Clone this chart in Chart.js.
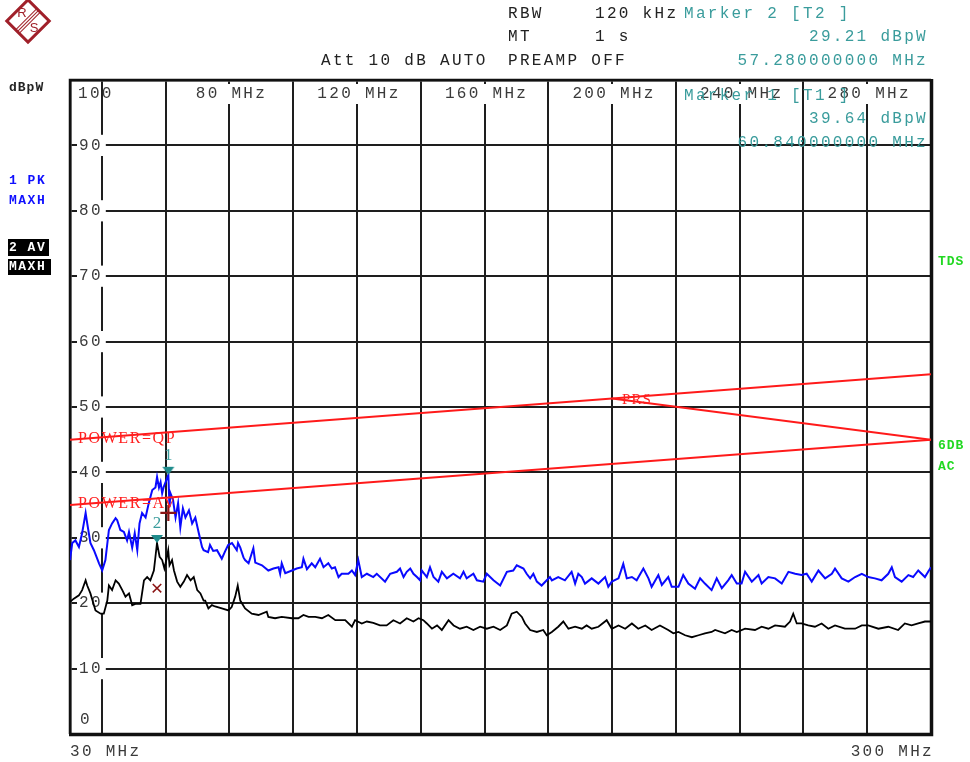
<!DOCTYPE html>
<html><head><meta charset="utf-8">
<script src="https://cdn.jsdelivr.net/npm/chart.js@4"></script>
<style>html,body{margin:0;padding:0;background:#fff;}#wrap{width:970px;height:762px;position:relative;}</style>
</head><body><div id="wrap"><canvas id="c" width="970" height="762"></canvas></div>
<script>
// ---------- DATA ----------
const pkFreq = [30,30.7,31.7,32.8,33.8,34.9,35.4,36.4,37.5,39.1,40.1,41.1,42.2,43.2,44.3,44.8,45.8,46.9,47.9,48.5,49.5,50.3,51.1,51.8,52.6,53.7,54.7,55.8,56.8,57.3,57.9,58.4,58.9,59.4,60.2,60.84,61.2,61.5,62.3,63.1,63.9,64.6,65.4,66.2,67.3,68.3,69.3,70.4,71.4,71.9,73.3,73.9,74.9,76.1,77.6,78.7,79.6,80.8,82.3,82.7,83.4,84.4,84.9,86.0,87.5,88.1,90.2,92.2,93.8,95.4,95.9,96.4,97.5,99.6,101.1,102.7,103.2,104.3,105.8,106.9,108.4,109.5,111.0,112.1,113.1,114.2,115.2,117.3,118.4,119.4,120.4,121.5,123.1,125.1,126.2,128.8,130.4,132.5,133.5,134.6,135.6,136.7,137.7,138.8,139.8,140.3,141.9,142.9,144.0,145.5,146.6,148.2,150.2,152.3,153.4,154.4,156.5,157.6,159.6,160.7,162.8,164.9,167.0,169.0,170.1,172.2,173.2,174.3,175.3,176.4,177.9,179.5,180.5,181.1,183.1,185.2,187.3,188.4,189.4,190.5,191.5,193.6,195.7,197.8,198.8,199.9,202.0,203.5,204.6,206.2,207.7,209.8,211.4,212.4,214.5,215.6,217.6,218.7,220.8,222.3,223.9,226.0,227.6,229.1,231.2,232.8,234.4,236.4,237.5,239.1,240.6,241.7,243.8,245.9,246.9,249.0,251.1,253.2,255.3,257.4,259.4,261.0,262.6,264.7,266.8,268.9,269.9,272.0,274.1,276.2,278.3,280.3,282.4,284.5,286.6,287.7,288.7,290.8,292.9,294.4,296.0,298.1,299.1,300];
const pkLevel = [26.6,29.2,29.6,28.6,30.7,33.8,32.2,29.2,28.1,26.1,25.0,26.6,31.2,32.2,33.0,32.7,31.2,30.9,29.6,30.9,28.5,30.7,28.1,32.2,33.8,33.1,35.3,37.3,37.7,39.3,37.7,38.5,36.8,37.8,38.8,39.64,34.7,36.8,35.8,33.1,35.3,31.6,34.5,33.1,34.2,32.2,33.1,30.7,28.6,28.1,27.8,28.9,28.0,28.1,26.8,28.0,28.9,29.2,28.1,29.2,28.5,27.0,26.6,26.1,28.4,26.2,25.8,25.0,25.3,25.5,24.5,26.1,24.6,25.0,25.3,25.5,26.8,25.2,26.1,25.5,26.8,25.5,26.1,25.3,25.5,24.0,24.5,24.5,25.0,24.3,26.6,24.0,24.5,24.0,24.5,23.3,24.5,24.8,25.3,24.0,24.8,25.3,24.5,24.0,23.5,25.0,24.0,25.5,24.0,23.3,24.8,23.8,24.5,23.8,24.8,23.8,24.5,23.5,23.3,24.5,23.5,22.7,24.8,25.0,25.8,25.3,24.5,23.8,24.5,23.3,22.7,23.5,24.0,23.5,24.0,23.5,24.8,23.0,24.5,24.0,23.0,23.8,23.0,24.0,22.5,23.3,23.8,26.0,23.8,24.0,23.5,25.3,23.8,22.5,24.3,22.8,24.0,22.5,22.5,24.3,23.0,22.2,23.8,23.0,22.0,23.8,22.3,23.5,24.3,23.0,23.0,24.8,23.3,24.3,23.0,24.0,23.8,23.0,24.8,24.5,24.3,24.5,23.3,25.0,23.8,24.5,25.3,23.8,23.3,24.0,24.5,24.0,23.8,23.5,24.5,25.5,24.0,23.3,24.3,24.0,25.0,24.0,24.8,25.5];

const avFreq = [30,31.2,32.8,33.8,34.9,35.4,36.4,38.0,39.6,40.6,41.7,42.2,43.2,44.3,45.3,46.4,47.4,48.5,49.5,50.5,52.1,53.2,54.2,55.2,56.3,56.8,57.28,58.1,58.9,59.6,60.2,60.8,61.2,62.0,62.6,63.6,64.6,65.7,66.7,67.8,68.8,69.9,70.9,71.9,72.4,73.4,74.5,75.5,77.6,79.7,80.7,81.8,82.6,83.4,84.9,87.0,89.1,91.7,92.2,94.3,96.4,99.6,101.6,103.2,104.8,106.9,109.0,111.0,113.2,116.3,118.4,119.4,121.5,123.1,125.1,127.2,129.3,131.4,133.5,135.6,137.7,139.3,140.8,141.9,143.5,145.1,146.6,148.7,150.3,152.3,154.4,156.5,158.6,160.7,162.8,164.9,167.0,168.5,170.1,171.7,172.7,174.3,176.4,178.4,179.5,181.1,183.1,184.7,186.3,188.4,190.5,192.0,193.6,195.7,198.3,199.9,202.0,204.1,206.2,208.2,210.4,212.4,215.0,217.6,219.2,220.8,222.9,225.0,227.1,229.1,231.2,232.3,235.4,237.5,239.1,241.7,244.8,246.9,249.0,251.1,254.2,255.8,256.8,257.9,259.4,261.5,263.6,265.7,267.8,269.9,273.0,276.2,278.3,280.3,283.5,286.6,289.7,291.8,293.9,296.0,298.1,300];
const avLevel = [20.2,20.7,21.2,22.0,23.5,22.7,21.5,18.9,18.4,18.4,20.4,22.7,22.0,23.5,23.0,22.0,21.0,21.5,19.7,19.9,19.9,23.5,24.0,23.5,25.0,27.1,29.21,27.1,26.6,25.3,26.6,28.1,25.8,26.6,25.0,23.3,22.5,23.3,24.3,23.5,24.0,22.0,21.5,20.4,20.4,19.2,19.7,19.5,19.2,18.9,19.4,21.0,22.7,20.4,19.2,18.4,18.2,18.7,17.9,17.7,17.9,17.7,17.7,18.2,17.9,17.9,17.7,18.2,17.4,17.4,16.4,17.4,16.9,17.2,17.0,16.6,16.6,17.4,16.9,17.7,17.2,17.7,17.4,16.9,16.1,16.6,15.9,17.4,16.6,16.1,16.4,15.9,16.4,16.1,16.4,15.9,16.6,18.4,18.7,17.9,16.9,15.9,15.6,15.9,15.1,15.6,16.4,17.2,16.1,16.4,16.1,16.6,16.1,16.4,17.4,16.1,16.6,16.1,16.9,16.1,16.6,15.9,16.6,15.9,15.4,15.6,15.1,14.8,15.1,15.4,15.6,15.9,15.4,15.9,15.6,16.1,15.9,16.4,16.1,16.6,16.4,17.2,18.4,16.9,16.9,16.6,16.4,16.9,16.1,16.6,16.1,16.1,16.6,16.6,16.1,16.4,15.9,16.9,16.6,16.9,17.2,17.2];

const limitFreq = [30, 300];
const limitQP = [45, 55];
const limitAV = [35, 45];
const prsFreq = [200, 300];
const prsLevel = [51.3, 45];

const markerFreq = [60.84, 57.28];
const markerLevel = [39.64, 29.21];
const markerNames = ['1', '2'];
const plusFreq = [60.84];
const plusLevel = [33.8];
const crossFreq = [57.28];
const crossLevel = [22.3];

const freqGrid = [30,40,60,80,100,120,140,160,180,200,220,240,260,280,300];
const freqTickValues = [80,120,160,200,240,280];
const freqTickLabels = ['80 MHz','120 MHz','160 MHz','200 MHz','240 MHz','280 MHz'];
const levelTicks = [0,10,20,30,40,50,60,70,80,90,100];

// ---------- HELPERS ----------
const MONO = '"Liberation Mono", "DejaVu Sans Mono", monospace';
const TEAL = '#3a9c9c';
function pts(xs, ys){ return xs.map((x,i)=>({x:x, y:ys[i]})); }
function txt(ctx, s, x, y, o){
  o = o || {};
  ctx.save();
  ctx.font = o.font || ('16px ' + MONO);
  ctx.fillStyle = o.color || '#222';
  ctx.textBaseline = 'middle';
  ctx.textAlign = o.align || 'left';
  if ('letterSpacing' in ctx) ctx.letterSpacing = (o.ls === undefined ? 2.3 : o.ls) + 'px';
  if (o.bg){
    const w = ctx.measureText(s).width;
    let x0 = x; if (ctx.textAlign==='center') x0 = x - w/2; else if (ctx.textAlign==='right') x0 = x - w;
    ctx.fillStyle = o.bg; ctx.fillRect(x0 - (o.padL||2), y - (o.h||16)/2, w + (o.padL||2) + (o.padR||2), (o.h||16));
    ctx.fillStyle = o.color || '#222';
  }
  ctx.fillText(s, x, y);
  ctx.restore();
}
// down-pointing triangle image with tip at centre
const tri = document.createElement('canvas');
tri.width = 14; tri.height = 20;
(function(){ const c = tri.getContext('2d'); c.fillStyle = '#1f8c8c'; c.beginPath(); c.moveTo(1,2); c.lineTo(13,2); c.lineTo(7,10); c.closePath(); c.fill(); })();

const setLS = { id:'ls', beforeUpdate(ch){ if ('letterSpacing' in ch.ctx) ch.ctx.letterSpacing='2.3px'; }, beforeDraw(ch){ if ('letterSpacing' in ch.ctx) ch.ctx.letterSpacing='2.3px'; } };

const decor = {
  id:'decor',
  beforeDatasetsDraw(ch){
    const ctx = ch.ctx, a = ch.chartArea, xs = ch.scales.x, ys = ch.scales.y;
    // frame
    ctx.save(); ctx.strokeStyle = '#111';
    ctx.lineWidth = 2.5; ctx.beginPath(); ctx.moveTo(a.left, a.bottom); ctx.lineTo(a.left, a.top); ctx.lineTo(a.right, a.top); ctx.stroke();
    ctx.lineWidth = 3.5; ctx.beginPath(); ctx.moveTo(a.left-1, a.bottom+0.5); ctx.lineTo(a.right+0.5, a.bottom+0.5); ctx.lineTo(a.right+0.5, a.top-1); ctx.stroke();
    ctx.restore();
    // top frequency labels
    freqTickValues.forEach((v,i)=>{
      txt(ctx, freqTickLabels[i], xs.getPixelForValue(v)+2, a.top + 14, {color:'#3a3a3a', align:'center', bg:'#fff', h:20, padL:1, padR:0});
    });
    // top / bottom level labels
    txt(ctx, String(levelTicks[levelTicks.length-1]), a.left + 8, a.top + 14, {color:'#3a3a3a'});
    txt(ctx, String(levelTicks[0]), a.left + 10, ys.getPixelForValue(levelTicks[0]) - 14, {color:'#3a3a3a'});
  },
  afterDatasetsDraw(ch){
    const ctx = ch.ctx, a = ch.chartArea, xs = ch.scales.x, ys = ch.scales.y;
    // marker numbers
    const mm = ch.getDatasetMeta(0);
    mm.data.forEach((el,i)=>{ txt(ctx, markerNames[i], el.x, el.y - 19, {color:TEAL, align:'center', font:'17px "Liberation Serif", serif', ls:0}); });
    // limit line labels
    const RED = '#ff2020';
    txt(ctx, 'POWER=QP', a.left + 8, ys.getPixelForValue(limitQP[0]) - 1, {color:RED, font:'16px "Liberation Serif", serif', ls:1.6});
    txt(ctx, 'POWER=AV', a.left + 8, ys.getPixelForValue(limitAV[0]) - 1, {color:RED, font:'16px "Liberation Serif", serif', ls:1.6});
    txt(ctx, 'PRS', xs.getPixelForValue(prsFreq[0]) + 10, ys.getPixelForValue(prsLevel[0]) + 2, {color:RED, font:'15px "Liberation Serif", serif', ls:1});
    // marker 1 readout inside the grid
    txt(ctx, 'Marker 1 [T1 ]', 684, 96, {color:TEAL});
    txt(ctx, '39.64 dBpW', 928, 119, {color:TEAL, align:'right'});
    txt(ctx, '60.840000000 MHz', 928, 143, {color:TEAL, align:'right'});
  },
  afterDraw(ch){
    const ctx = ch.ctx;
    // header
    txt(ctx, 'RBW', 508, 14); txt(ctx, '120 kHz', 595, 14);
    txt(ctx, 'MT', 508, 37);  txt(ctx, '1 s', 595, 37);
    txt(ctx, 'Att 10 dB AUTO', 321, 61); txt(ctx, 'PREAMP OFF', 508, 61);
    txt(ctx, 'Marker 2 [T2 ]', 684, 14, {color:TEAL});
    txt(ctx, '29.21 dBpW', 928, 37, {color:TEAL, align:'right'});
    txt(ctx, '57.280000000 MHz', 928, 61, {color:TEAL, align:'right'});
    // bottom
    txt(ctx, '30 MHz', 70, 752, {color:'#3a3a3a'});
    txt(ctx, '300 MHz', 934, 752, {color:'#3a3a3a', align:'right'});
    // left side
    const B = 'bold 13px ' + MONO;
    txt(ctx, 'dBpW', 9, 88, {font:B, color:'#222', ls:1});
    txt(ctx, '1 PK', 9, 181, {font:B, color:'#1010ff', ls:1.5});
    txt(ctx, 'MAXH', 9, 201, {font:B, color:'#1010ff', ls:1.5});
    ctx.save(); ctx.fillStyle = '#000'; ctx.fillRect(8, 239, 41, 17); ctx.fillRect(8, 259, 43, 16); ctx.restore();
    txt(ctx, '2 AV', 9, 248, {font:B, color:'#fff', ls:1.5});
    txt(ctx, 'MAXH', 9, 267, {font:B, color:'#fff', ls:1.5});
    // right side
    const G = '#22d822';
    txt(ctx, 'TDS', 938, 262, {font:B, color:G, ls:1});
    txt(ctx, '6DB', 938, 446, {font:B, color:G, ls:1});
    txt(ctx, 'AC', 938, 467, {font:B, color:G, ls:1});
    // R&S logo
    ctx.save();
    ctx.translate(28, 21); ctx.rotate(Math.PI/4);
    ctx.strokeStyle = '#a0202a'; ctx.lineWidth = 3;
    ctx.strokeRect(-15, -15, 30, 30);
    ctx.lineWidth = 1;
    [-2.5, 0, 2.5].forEach(d=>{ ctx.beginPath(); ctx.moveTo(d, -15); ctx.lineTo(d, 15); ctx.stroke(); });
    ctx.restore();
    txt(ctx, 'R', 22, 13, {font:'13px "Liberation Sans", sans-serif', color:'#a0202a', align:'center', ls:0});
    txt(ctx, 'S', 34, 28, {font:'13px "Liberation Sans", sans-serif', color:'#a0202a', align:'center', ls:0});
  }
};

new Chart(document.getElementById('c'), {
  type: 'scatter',
  data: { datasets: [
    { label:'Markers', data: pts(markerFreq, markerLevel), pointStyle: tri, pointRadius: 7, showLine:false },
    { label:'Plus', data: pts(plusFreq, plusLevel), pointStyle:'cross', pointRadius: 8, borderColor:'#8b1414', backgroundColor:'#8b1414', pointBorderWidth: 2.2, showLine:false },
    { label:'X', data: pts(crossFreq, crossLevel), pointStyle:'crossRot', pointRadius: 6, borderColor:'#8b1414', backgroundColor:'#8b1414', pointBorderWidth: 1.5, showLine:false },
    { label:'POWER=QP', data: pts(limitFreq, limitQP), showLine:true, borderColor:'#ff1a1a', borderWidth:2, pointRadius:0 },
    { label:'POWER=AV', data: pts(limitFreq, limitAV), showLine:true, borderColor:'#ff1a1a', borderWidth:2, pointRadius:0 },
    { label:'PRS', data: pts(prsFreq, prsLevel), showLine:true, borderColor:'#ff1a1a', borderWidth:2, pointRadius:0 },
    { label:'1 PK MAXH', data: pts(pkFreq, pkLevel), showLine:true, borderColor:'#0a0aff', borderWidth:2, pointRadius:0, tension:0 },
    { label:'2 AV MAXH', data: pts(avFreq, avLevel), showLine:true, borderColor:'#000', borderWidth:1.8, pointRadius:0, tension:0 }
  ]},
  options: {
    responsive:false, animation:false, devicePixelRatio:1,
    layout:{ padding:{ left:70, top:80, right:39, bottom:28 } },
    plugins:{ legend:{display:false}, tooltip:{enabled:false} },
    scales:{
      x:{ type:'linear', position:'top', min:30, max:300,
          afterBuildTicks: s => { s.ticks = freqGrid.map(v=>({value:v})); },
          afterFit: s => { s.height = 0; },
          ticks:{ display:false },
          grid:{ color:'#1e1e1e', lineWidth:2, drawTicks:false },
          border:{ display:true, color:'#111', width:2.5 } },
      y:{ type:'linear', position:'left', min:0, max:100,
          afterBuildTicks: s => { s.ticks = levelTicks.map(v=>({value:v})); },
          afterFit: s => { s.width = 0; },
          ticks:{ mirror:true, padding:9, color:'#3a3a3a', font:{ family:'Liberation Mono', size:16 },
                  callback: v => (v===levelTicks[0] || v===levelTicks[levelTicks.length-1]) ? '' : String(v),
                  showLabelBackdrop: c => c.tick && c.tick.value>0 && c.tick.value<100,
                  backdropColor:'#fff', backdropPadding:{top:1,bottom:1,left:2,right:3} },
          grid:{ color:'#1e1e1e', lineWidth:2, drawTicks:false },
          border:{ display:true, color:'#111', width:2.5 } }
    }
  },
  plugins:[setLS, decor]
});
</script>
</body></html>
